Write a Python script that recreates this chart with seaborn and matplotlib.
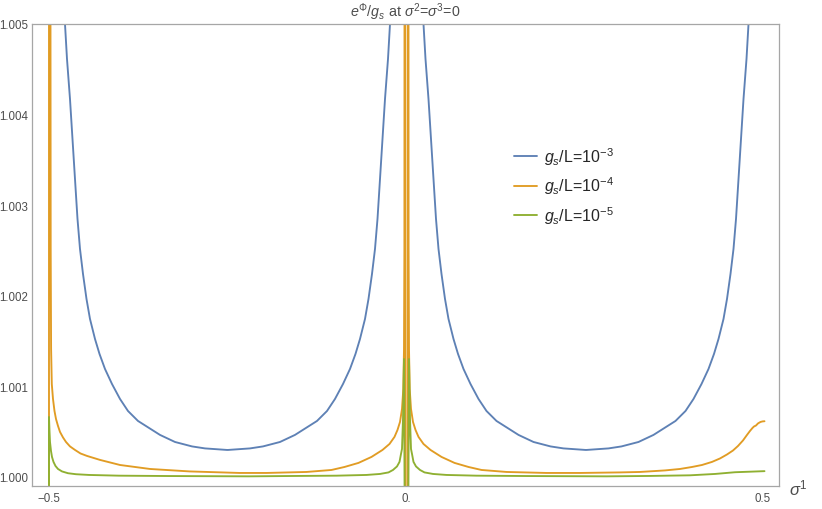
import numpy as np
import pandas as pd
import matplotlib
matplotlib.use("Agg")
import matplotlib.pyplot as plt
from matplotlib.lines import Line2D
import seaborn as sns

sns.set_theme(style="white")
plt.rcParams['font.family'] = ['Liberation Sans', 'DejaVu Sans']
plt.rcParams['mathtext.fontset'] = 'custom'
plt.rcParams['mathtext.rm'] = 'Liberation Sans'
plt.rcParams['mathtext.it'] = 'Liberation Sans:italic'
plt.rcParams['mathtext.bf'] = 'Liberation Sans:bold'
plt.rcParams['axes.unicode_minus'] = True

# ---- data ----
# values are stored as excess over 1, in units of 1e-3  (value = 1 + excess/1000)
series_names = ["1e-3", "1e-4", "1e-5"]
legend_labels = [r"$g_s$/L=10$^{-3}$", r"$g_s$/L=10$^{-4}$", r"$g_s$/L=10$^{-5}$"]
colors = ["#5E81B5", "#E19C24", "#8FB032"]

# g_s/L = 1e-3 : profile levels (top -> minimum) shared by the four branches
blue_levels = [5.000, 4.614, 4.172, 3.731, 3.289, 2.848, 2.517, 2.241, 1.965, 1.744, 1.523, 1.358,
               1.192, 1.026, 0.861, 0.728, 0.618, 0.541, 0.464, 0.386, 0.337, 0.315, 0.298]
blue_left_lobe_a = [-0.47759, -0.47479, -0.47059, -0.46709, -0.46359, -0.46008, -0.45658, -0.45238,
                    -0.44748, -0.44258, -0.43557, -0.42927, -0.42157, -0.41176, -0.40056, -0.38936,
                    -0.37535, -0.35994, -0.34454, -0.32353, -0.29972, -0.28151, -0.25070]
blue_left_lobe_b = [-0.02241, -0.02521, -0.02941, -0.03291, -0.03641, -0.03992, -0.04342, -0.04762,
                    -0.05252, -0.05742, -0.06443, -0.07073, -0.07843, -0.08824, -0.09944, -0.11064,
                    -0.12465, -0.14006, -0.15546, -0.17647, -0.20028, -0.21849, -0.24930]
blue_right_lobe_a = [0.02451, 0.02731, 0.03151, 0.03501, 0.03851, 0.04202, 0.04552, 0.04972,
                     0.05462, 0.05952, 0.06653, 0.07283, 0.08053, 0.09034, 0.10154, 0.11274,
                     0.12675, 0.14216, 0.15756, 0.17857, 0.20238, 0.22059, 0.25140]
blue_right_lobe_b = [0.47969, 0.47689, 0.47269, 0.46919, 0.46569, 0.46218, 0.45868, 0.45448,
                     0.44958, 0.44468, 0.43767, 0.43137, 0.42367, 0.41386, 0.40266, 0.39146,
                     0.37745, 0.36204, 0.34664, 0.32563, 0.30182, 0.28361, 0.25280]

# g_s/L = 1e-4
orange_x = [-0.50000, -0.50000, -0.49790, -0.49790, -0.49762, -0.49706, -0.49608, -0.49440, -0.49230,
            -0.49020, -0.48739, -0.48459, -0.48039, -0.47619, -0.47059, -0.46359, -0.45588, -0.44678,
            -0.42857, -0.40056, -0.35854, -0.30322, -0.23319,
            -0.19538, -0.13936, -0.10434, -0.08613, -0.06653, -0.04832, -0.03291, -0.02311, -0.01611,
            -0.01190, -0.00840, -0.00560, -0.00378, -0.00280, -0.00224, -0.00210, -0.00210,
            -0.00112, -0.00084, 0.00224, 0.00252,
            0.00350, 0.00350, 0.00364, 0.00420, 0.00518, 0.00700, 0.00980, 0.01331, 0.01751, 0.02451,
            0.03431, 0.04972, 0.06793, 0.08754, 0.10574, 0.14076, 0.19678, 0.24370, 0.29972, 0.32773,
            0.36275, 0.38375, 0.40056, 0.41457, 0.42857, 0.43978, 0.44958, 0.45798, 0.46499, 0.47199,
            0.47759, 0.48179, 0.48529, 0.48739, 0.49020, 0.49300, 0.49650, 0.49930, 0.50210]
orange_excess = [-0.200, 5.400, 5.400, 5.000, 2.517, 1.413, 1.026, 0.861, 0.728,
                 0.640, 0.563, 0.497, 0.436, 0.386, 0.337, 0.298, 0.259, 0.232,
                 0.188, 0.132, 0.088, 0.061, 0.044,
                 0.044, 0.055, 0.077, 0.110, 0.155, 0.221, 0.298, 0.364, 0.442,
                 0.519, 0.607, 0.751, 0.971, 1.413, 2.517, 5.000, 5.400,
                 5.400, -0.200, -0.200, 5.400,
                 5.400, 5.000, 2.517, 1.413, 0.971, 0.751, 0.607, 0.519, 0.442, 0.364,
                 0.298, 0.221, 0.155, 0.110, 0.077, 0.055, 0.044, 0.044, 0.050, 0.055,
                 0.072, 0.088, 0.110, 0.132, 0.166, 0.204, 0.248, 0.292, 0.342, 0.403,
                 0.464, 0.508, 0.541, 0.557, 0.568, 0.591, 0.607, 0.613, 0.615]

# g_s/L = 1e-5
green_x = [-0.50000, -0.50000, -0.49930, -0.49860, -0.49720, -0.49580, -0.49370, -0.49090, -0.48739,
           -0.48179, -0.47339, -0.46218, -0.44398, -0.40196, -0.33193, -0.21989,
           -0.27941 + 0.0, -0.16737, -0.09734, -0.05532, -0.03641, -0.02451, -0.01821, -0.01261,
           -0.00910, -0.00700, -0.00560, -0.00420, -0.00280, -0.00196,
           0.00336, 0.00420, 0.00560, 0.00700, 0.00840, 0.01050, 0.01401, 0.01961, 0.02591,
           0.03782, 0.05672, 0.09874, 0.16877, 0.28081, 0.34174, 0.39776, 0.43277, 0.46078,
           0.48179, 0.50210]
green_excess = [-0.200, 0.662, 0.508, 0.386, 0.287, 0.221, 0.166, 0.121, 0.088,
                0.061, 0.041, 0.030, 0.022, 0.014, 0.010, 0.0066,
                0.0060, 0.010, 0.014, 0.022, 0.033, 0.050, 0.077, 0.116,
                0.166, 0.254, 0.309, 0.640, 1.302, -0.200,
                -0.200, 1.302, 0.640, 0.309, 0.254, 0.166, 0.116, 0.077, 0.050,
                0.033, 0.022, 0.014, 0.010, 0.0066, 0.011, 0.018, 0.033, 0.052,
                0.058, 0.064]

x_ticks = [-0.5, 0.0, 0.5]
x_ticklabels = ["\u22120.5", "0.", "0.5"]
y_ticks = [1.000, 1.001, 1.002, 1.003, 1.004, 1.005]
y_ticklabels = ["1.000", "1.001", "1.002", "1.003", "1.004", "1.005"]

# green: drop the point listed out of order at the join of the two flat parts
gx = green_x[:16] + green_x[17:]
ge = green_excess[:16] + green_excess[17:]

# ---- assemble ----
def lobe(a, b):
    return a + b[::-1], blue_levels + blue_levels[::-1]

bx1, be1 = lobe(blue_left_lobe_a, blue_left_lobe_b)
bx2, be2 = lobe(blue_right_lobe_a, blue_right_lobe_b)

frames = [
    pd.DataFrame({"sigma": bx1, "ex": be1, "series": series_names[0], "seg": "b1"}),
    pd.DataFrame({"sigma": bx2, "ex": be2, "series": series_names[0], "seg": "b2"}),
    pd.DataFrame({"sigma": orange_x, "ex": orange_excess, "series": series_names[1], "seg": "o1"}),
    pd.DataFrame({"sigma": gx, "ex": ge, "series": series_names[2], "seg": "g1"}),
]
df = pd.concat(frames, ignore_index=True)
df["val"] = 1.0 + df["ex"] / 1000.0

fig = plt.figure(figsize=(8.22, 5.10), dpi=100)
W, H = 822, 510
ax = fig.add_axes([32 / W, 1 - 487 / H, (779 - 32) / W, (487 - 25) / H])

sns.lineplot(data=df, x="sigma", y="val", hue="series", units="seg", estimator=None,
             sort=False, palette=dict(zip(series_names, colors)), hue_order=series_names,
             linewidth=1.35, legend=False, ax=ax)

ax.set_xlim(-0.5238, 0.5224)
ax.set_ylim(0.99990, 1.005)
ax.set_xlabel("")
ax.set_ylabel("")

frame_col = "#a6a6a6"
for s in ax.spines.values():
    s.set_color(frame_col)
    s.set_linewidth(0.9)
    s.set_visible(True)

ax.set_xticks(x_ticks)
ax.set_xticklabels(x_ticklabels)
ax.set_yticks(y_ticks)
ax.set_yticklabels(y_ticklabels)
ax.set_yticks(np.arange(1.0002, 1.005, 0.0002), minor=True)
ax.tick_params(axis="both", which="major", direction="in", length=4, width=0.8,
               color=frame_col, labelcolor="#4d4d4d", labelsize=8.3)
ax.tick_params(axis="y", which="minor", direction="in", length=2.5, width=0.7, color=frame_col)
ax.tick_params(axis="y", which="major", pad=3)
ax.tick_params(axis="x", which="major", pad=4)
ax.tick_params(top=False, right=False, which="both")

fig.text(405 / W, 1 - 12 / H, r"$e^{\Phi}/g_s$ at $\sigma^2$=$\sigma^3$=0",
         ha="center", va="center", fontsize=10.3, color="#4d4d4d")
fig.text(789 / W, 1 - 488 / H, r"$\sigma^1$", ha="left", va="center", fontsize=12, color="#4d4d4d")

handles = [Line2D([0], [0], color=c, lw=1.35) for c in colors]
leg = ax.legend(handles, legend_labels, loc="upper left",
                bbox_to_anchor=(514 / W, 1 - 146 / H), bbox_transform=fig.transFigure,
                frameon=False, fontsize=11.5, handlelength=1.45, handletextpad=0.45,
                labelspacing=0.5, borderpad=0.0, borderaxespad=0.0)

fig.savefig("out.png", dpi=100)
